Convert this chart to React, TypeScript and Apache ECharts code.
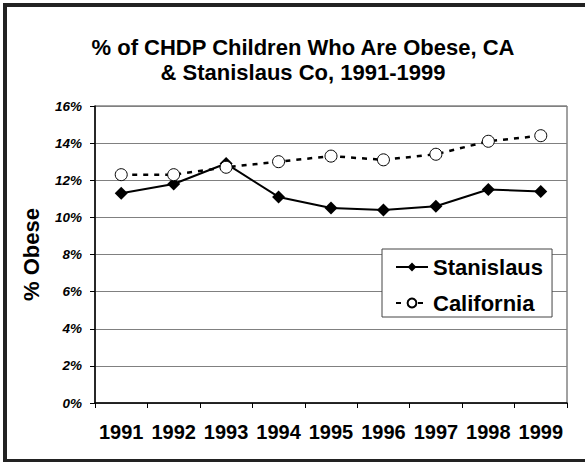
import React, { useEffect, useRef } from "react";
import * as echarts from "echarts";

const years = ["1991", "1992", "1993", "1994", "1995", "1996", "1997", "1998", "1999"];
const stanislaus = [11.3, 11.8, 12.9, 11.1, 10.5, 10.4, 10.6, 11.5, 11.4];
const california = [12.3, 12.3, 12.7, 13.0, 13.3, 13.1, 13.4, 14.1, 14.4];
const titleText = "% of CHDP Children Who Are Obese, CA\n& Stanislaus Co, 1991-1999";
const FONT = "'Liberation Sans', Arial, sans-serif";

export default function App() {
  const ref = useRef<HTMLDivElement>(null);
  useEffect(() => {
    if (!ref.current) return;
    const chart = echarts.init(ref.current, null, { renderer: "svg" });
    chart.setOption({
      animation: false,
      backgroundColor: "#fff",
      title: {
        text: titleText,
        left: 298,
        top: 30,
        textAlign: "center",
        textStyle: {
          fontFamily: FONT,
          fontSize: 22,
          fontWeight: "bold",
          color: "#000",
          lineHeight: 25,
        },
      },
      graphic: [
        {
          type: "rect",
          shape: { x: 5, y: 5, width: 585, height: 456 },
          style: { fill: "none", stroke: "#222", lineWidth: 4 },
          silent: true,
        },
      ],
      legend: {
        orient: "vertical",
        left: 382,
        top: 249,
        padding: [7, 9, 3, 13],
        itemGap: 14,
        itemWidth: 32,
        itemHeight: 11,
        backgroundColor: "#fff",
        borderColor: "#444",
        borderWidth: 1,
        borderRadius: 0,
        textStyle: { fontFamily: FONT, fontSize: 22, fontWeight: "bold", color: "#000" },
        data: ["Stanislaus", "California"],
      },
      grid: {
        left: 95,
        right: 18,
        top: 106,
        bottom: 59,
        show: true,
        borderColor: "#444",
        borderWidth: 1,
      },
      xAxis: {
        type: "category",
        data: years,
        boundaryGap: true,
        axisLine: { lineStyle: { color: "#000", width: 1.5 } },
        axisTick: { show: true, alignWithLabel: false, length: 5, lineStyle: { color: "#000" } },
        axisLabel: {
          fontFamily: FONT,
          fontSize: 20,
          fontWeight: "bold",
          color: "#000",
          margin: 19,
          interval: 0,
        },
      },
      yAxis: {
        type: "value",
        min: 0,
        max: 16,
        interval: 2,
        name: "% Obese",
        nameLocation: "middle",
        nameRotate: 90,
        nameGap: 53,
        nameTextStyle: { fontFamily: FONT, fontSize: 22, fontWeight: "bold", color: "#000" },
        axisLine: { show: true, lineStyle: { color: "#000", width: 1.5 } },
        axisTick: { show: true, length: 5, lineStyle: { color: "#000" } },
        axisLabel: {
          formatter: "{value}%",
          fontFamily: FONT,
          fontSize: 13.5,
          fontWeight: "bold",
          fontStyle: "italic",
          color: "#000",
          margin: 13,
        },
        splitLine: { show: true, lineStyle: { color: "#808080", width: 1 } },
      },
      series: [
        {
          name: "Stanislaus",
          type: "line",
          data: stanislaus,
          symbol: "diamond",
          symbolSize: 13,
          lineStyle: { color: "#000", width: 2 },
          itemStyle: { color: "#000" },
          z: 2,
        },
        {
          name: "California",
          type: "line",
          data: california,
          symbol: "circle",
          symbolSize: 12,
          showAllSymbol: true,
          lineStyle: { color: "#000", width: 2.5, type: [5, 6] },
          itemStyle: { color: "#fff", borderColor: "#000", borderWidth: 1 },
          z: 3,
        },
      ],
    });
    return () => chart.dispose();
  }, []);
  return <div ref={ref} style={{ width: 585, height: 462, position: "absolute", left: 0, top: 0 }} />;
}
